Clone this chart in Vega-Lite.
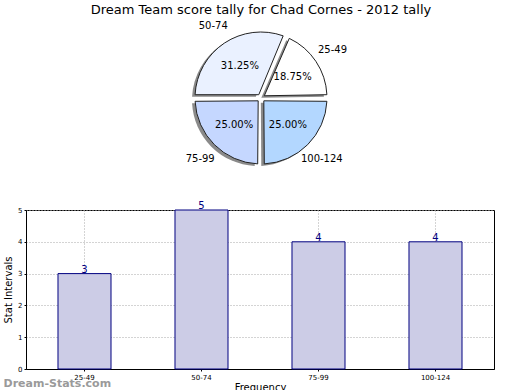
{
  "$schema": "https://vega.github.io/schema/vega-lite/v6.json",
  "background": "white",
  "padding": {"left": 3, "top": 4, "right": 0, "bottom": 0},
  "spacing": 25,
  "config": {
    "font": "DejaVu Sans",
    "view": {"stroke": "black", "strokeWidth": 1}
  },
  "datasets": {
    "tally": [
      {"interval": "100-124", "count": 4, "pct": "25.00%", "ord": 1},
      {"interval": "75-99", "count": 4, "pct": "25.00%", "ord": 2},
      {"interval": "50-74", "count": 5, "pct": "31.25%", "ord": 3},
      {"interval": "25-49", "count": 3, "pct": "18.75%", "ord": 4}
    ]
  },
  "vconcat": [
    {
      "title": {"text": "Dream Team score tally for Chad Cornes - 2012 tally", "fontSize": 13, "fontWeight": "normal", "anchor": "middle", "color": "black", "offset": 4},
      "width": 470,
      "height": 154,
      "view": {"stroke": null},
      "data": {"name": "tally"},
      "encoding": {
        "theta": {"field": "count", "type": "quantitative", "stack": true, "scale": {"range": [1.5708, 7.854]}},
        "order": {"field": "ord", "type": "ordinal"}
      },
      "layer": [
        {
          "mark": {"type": "arc", "outerRadius": 66, "innerRadius": 4, "padAngle": 0.1, "fill": "#8a8a8a", "xOffset": -3, "yOffset": 2}
        },
        {
          "mark": {"type": "arc", "outerRadius": 66, "innerRadius": 4, "padAngle": 0.1, "stroke": "#222222", "strokeWidth": 1},
          "encoding": {
            "color": {"field": "interval", "type": "nominal", "legend": null,
              "scale": {"domain": ["25-49", "50-74", "75-99", "100-124"], "range": ["#ffffff", "#eaf1ff", "#c5d7ff", "#b3d7ff"]}}
          }
        },
        {
          "mark": {"type": "text", "radius": 38, "fontSize": 10, "color": "black"},
          "encoding": {"text": {"field": "pct"}}
        },
        {
          "mark": {"type": "text", "radius": 86, "fontSize": 10, "color": "black"},
          "encoding": {"text": {"field": "interval"}}
        }
      ]
    },
    {
      "width": 468,
      "height": 159,
      "data": {"name": "tally"},
      "title": {"text": "Dream-Stats.com", "orient": "bottom", "anchor": "start", "frame": "bounds", "fontSize": 11, "fontWeight": "bold", "color": "#9a9a9a", "offset": -14},
      "encoding": {
        "x": {"field": "interval", "type": "nominal", "sort": ["25-49", "50-74", "75-99", "100-124"],
          "scale": {"paddingInner": 0.547, "paddingOuter": 0.2735},
          "axis": {"title": "Frequency", "labelAngle": 0, "labelFontSize": 7, "titleFontSize": 10, "titleFontWeight": "normal", "titleColor": "black", "labelColor": "black", "domainColor": "black", "tickColor": "black", "tickSize": 2, "bandPosition": 0.5, "grid": true, "gridDash": [1, 2], "gridColor": "#a8a8a8", "titlePadding": 2}},
        "y": {"field": "count", "type": "quantitative", "scale": {"domain": [0, 5], "nice": false},
          "axis": {"title": "Stat Intervals", "values": [0, 1, 2, 3, 4, 5], "labelFontSize": 7, "titleFontSize": 10, "titleFontWeight": "normal", "titleColor": "black", "labelColor": "black", "domainColor": "black", "tickColor": "black", "tickSize": 2, "grid": true, "gridDash": [1, 2], "gridColor": "#a8a8a8", "titlePadding": 4}}
      },
      "layer": [
        {"mark": {"type": "bar", "fill": "#cccce6", "stroke": "#000080", "strokeWidth": 1}},
        {"mark": {"type": "text", "baseline": "bottom", "fontSize": 10, "color": "#000080", "dy": 1},
          "encoding": {"text": {"field": "count", "type": "quantitative"}}}
      ]
    }
  ]
}
